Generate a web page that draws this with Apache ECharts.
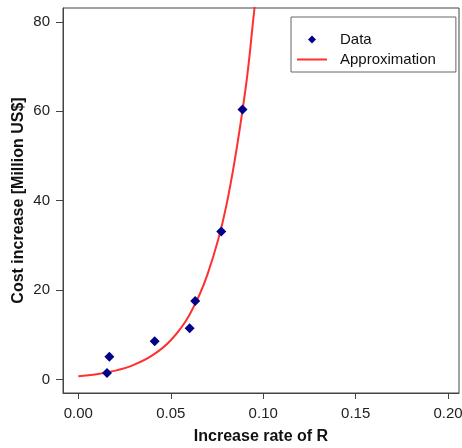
<!DOCTYPE html>
<html>
<head>
<meta charset="utf-8">
<script src="https://cdn.jsdelivr.net/npm/echarts@6/dist/echarts.min.js"></script>
<style>html,body{margin:0;padding:0;background:#fff;}#c{width:462px;height:448px;}</style>
</head>
<body>
<div id="c"></div>
<script>
// Observed data points
const dataX = [0.0155, 0.0168, 0.0413, 0.0602, 0.0632, 0.0773, 0.0888];
const dataY = [1.5, 5.1, 8.6, 11.5, 17.6, 33.1, 60.4];
// Approximation curve
const curveX = [0, 0.01, 0.02, 0.03, 0.04, 0.05, 0.06, 0.07, 0.08, 0.09, 0.095, 0.097];
const curveY = [0.74, 1.2, 2.0, 3.3, 5.4, 8.8, 14.4, 23.7, 38.8, 63.7, 82, 90];
// Tick labels
const xTicks = [0, 0.05, 0.10, 0.15, 0.20];
const yTicks = [0, 20, 40, 60, 80];

const font = 'Liberation Sans, Arial, Helvetica, sans-serif';
const chart = echarts.init(document.getElementById('c'), null, {renderer: 'canvas'});
chart.setOption({
  animation: false,
  backgroundColor: '#fff',
  grid: {left: 63, right: 3, top: 8, bottom: 55, containLabel: false, outerBoundsMode: 'none',
         show: true, borderColor: '#444', borderWidth: 1, backgroundColor: 'transparent'},
  legend: {
    orient: 'vertical', left: 291, top: 17,
    width: 164, padding: [15, 20, 5, 6],
    borderColor: '#666', borderWidth: 1, backgroundColor: '#fff',
    itemGap: 5, itemWidth: 30, itemHeight: 12,
    textStyle: {fontFamily: font, fontSize: 15, color: '#111', padding: [0, 0, 0, 8]},
    data: [
      {name: 'Data', icon: 'path://M0,0 M30,12 M11,6 L15,2 L19,6 L15,10 Z', itemStyle: {color: '#00008b'}},
      {name: 'Approximation', icon: 'path://M0,0 M30,12 M0,5 L30,5 L30,7 L0,7 Z', itemStyle: {color: '#ff3030'}}
    ]
  },
  xAxis: {
    type: 'value', min: -0.0083, max: 0.2059,
    name: 'Increase rate of R', nameLocation: 'middle', nameGap: 36,
    nameTextStyle: {fontFamily: font, fontSize: 16, fontWeight: 'bold', color: '#111'},
    axisLine: {show: true, onZero: false, lineStyle: {color: '#444', width: 1}},
    axisTick: {show: true, inside: false, length: 6, customValues: xTicks, lineStyle: {color: '#444', width: 1}},
    axisLabel: {customValues: xTicks, margin: 13, fontFamily: font, fontSize: 15, color: '#222', formatter: v => v.toFixed(2)},
    splitLine: {show: false}
  },
  yAxis: {
    type: 'value', min: -3.0, max: 83.1,
    name: 'Cost increase [Million US$]', nameLocation: 'middle', nameGap: 36, nameRotate: 90,
    nameMoveOverlap: false,
    nameTextStyle: {fontFamily: font, fontSize: 16, fontWeight: 'bold', color: '#111'},
    axisLine: {show: true, onZero: false, lineStyle: {color: '#444', width: 1}},
    axisTick: {show: true, inside: false, length: 7, customValues: yTicks, lineStyle: {color: '#444', width: 1}},
    axisLabel: {customValues: yTicks, margin: 13, fontFamily: font, fontSize: 15, color: '#222'},
    splitLine: {show: false}
  },
  series: [
    {
      name: 'Data', type: 'scatter', symbol: 'diamond', symbolSize: 10,
      itemStyle: {color: '#00008b', opacity: 1},
      data: dataX.map((x, i) => [x, dataY[i]]), z: 3
    },
    {
      name: 'Approximation', type: 'line', smooth: 0.4, symbol: 'none', clip: true,
      lineStyle: {color: '#ff3030', width: 2},
      itemStyle: {color: '#ff3030'},
      data: curveX.map((x, i) => [x, curveY[i]]), z: 2
    }
  ]
});
</script>
</body>
</html>
